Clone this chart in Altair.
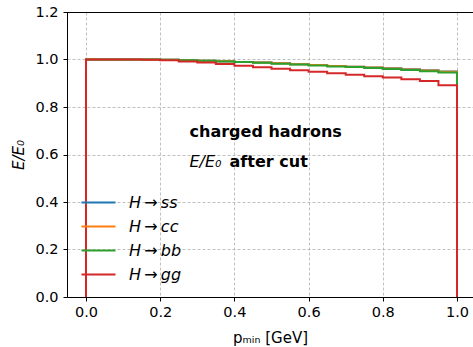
import altair as alt
import pandas as pd

# Lower edges of the p_min bins (GeV); the last bin closes at 1.0
bin_edges = [0.00, 0.05, 0.10, 0.15, 0.20, 0.25, 0.30, 0.35, 0.40, 0.45,
             0.50, 0.55, 0.60, 0.65, 0.70, 0.75, 0.80, 0.85, 0.90, 0.95]
p_end = 1.0

# Energy fraction E/E0 kept by charged hadrons after the p_min cut
frac_ss = [1.000, 1.000, 1.000, 1.000, 0.999, 0.997, 0.995, 0.993, 0.990, 0.987,
           0.984, 0.980, 0.977, 0.973, 0.970, 0.966, 0.963, 0.959, 0.955, 0.949]
frac_cc = [1.000, 1.000, 1.000, 1.000, 0.999, 0.997, 0.995, 0.993, 0.990, 0.987,
           0.984, 0.980, 0.977, 0.973, 0.970, 0.966, 0.962, 0.958, 0.954, 0.948]
frac_bb = [1.000, 1.000, 1.000, 1.000, 0.999, 0.997, 0.995, 0.992, 0.989, 0.986,
           0.982, 0.979, 0.975, 0.971, 0.968, 0.964, 0.960, 0.956, 0.951, 0.945]
frac_gg = [1.000, 1.000, 1.000, 0.999, 0.997, 0.992, 0.987, 0.981, 0.974, 0.967,
           0.961, 0.955, 0.948, 0.942, 0.936, 0.930, 0.924, 0.917, 0.909, 0.892]

series_names = ["H\u2009→\u2009ss", "H\u2009→\u2009cc", "H\u2009→\u2009bb", "H\u2009→\u2009gg"]
series_colors = ["#1f77b4", "#ff7f0e", "#2ca02c", "#d62728"]
series_values = [frac_ss, frac_cc, frac_bb, frac_gg]


def step_outline(name, values):
    # Closed histogram outline: rise at the first edge, fall at the last
    rows = [{"p": bin_edges[0], "frac": 0.0, "series": name, "k": 0}]
    for i, (edge, v) in enumerate(zip(bin_edges, values)):
        rows.append({"p": edge, "frac": v, "series": name, "k": i + 1})
    rows.append({"p": p_end, "frac": values[-1], "series": name, "k": len(values) + 1})
    rows.append({"p": p_end, "frac": 0.0, "series": name, "k": len(values) + 2})
    return rows


records = []
for name, vals in zip(series_names, series_values):
    records += step_outline(name, vals)
df = pd.DataFrame(records)

FONT = "DejaVu Sans"

x_scale = alt.Scale(domain=[-0.05121, 1.04313], nice=False, zero=False)
y_scale = alt.Scale(domain=[0, 1.2], nice=False)
color_scale = alt.Scale(domain=series_names, range=series_colors)

x_axis = alt.Axis(
    values=[0.0, 0.2, 0.4, 0.6, 0.8, 1.0], format=".1f",
    title="pₘᵢₙ [GeV]", titleFontSize=15, titleFontWeight="normal",
    titlePadding=12,
)
y_axis = alt.Axis(
    values=[0.0, 0.2, 0.4, 0.6, 0.8, 1.0, 1.2], format=".1f",
    title="E/E₀", titleFontSize=15, titleFontWeight="normal",
    titleFontStyle="italic", titlePadding=8,
)
# Long, thin line handles: a wide custom path keeps the entry rows compact
legend = alt.Legend(
    title=None, orient="none", legendX=19, legendY=178,
    symbolType="M-1.5,0H1.5", symbolSize=514, symbolStrokeWidth=2,
    symbolFillColor="transparent",
    labelFont=FONT, labelFontSize=16, labelFontStyle="italic",
    labelOffset=18, rowPadding=3, padding=0, labelColor="#000000",
)

layers = []
for name in series_names:
    layers.append(
        alt.Chart(df)
        .transform_filter(alt.datum.series == name)
        .mark_line(interpolate="step-after", strokeWidth=2, clip=True)
        .encode(
            x=alt.X("p:Q", scale=x_scale, axis=x_axis),
            y=alt.Y("frac:Q", scale=y_scale, axis=y_axis),
            color=alt.Color("series:N", scale=color_scale, legend=legend),
            order="k:Q",
        )
    )

# Top frame line at the upper limit of the y range
top_frame = alt.Chart(pd.DataFrame({"y": [1.2]})).mark_rule(
    color="black", strokeWidth=1, yOffset=0.5
).encode(y=alt.Y("y:Q", scale=y_scale, axis=y_axis))

notes = pd.DataFrame({
    "x": [0.279, 0.279, 0.387],
    "y": [0.672, 0.546, 0.546],
    "t": ["charged hadrons", "E/E₀", "after cut"],
    "w": ["bold", "normal", "bold"],
    "s": ["normal", "italic", "normal"],
})
note_layers = []
for _, r in notes.iterrows():
    note_layers.append(
        alt.Chart(pd.DataFrame([r])).mark_text(
            align="left", baseline="alphabetic", font=FONT, fontSize=16,
            fontWeight=r["w"], fontStyle=r["s"], color="black",
        ).encode(
            x=alt.X("x:Q", scale=x_scale, axis=x_axis),
            y=alt.Y("y:Q", scale=y_scale, axis=y_axis),
            text="t:N",
        )
    )

chart = (
    alt.layer(*layers, top_frame, *note_layers)
    .properties(
        width=406, height=285,
        autosize=alt.AutoSizeParams(type="none"),
        padding={"left": 67, "top": 12, "right": 0, "bottom": 50},
        background="white",
    )
    .configure_view(stroke=None)
    .configure_axis(
        labelFont=FONT, titleFont=FONT, labelFontSize=14.5, labelColor="black",
        titleColor="black", domainColor="black", domainWidth=1,
        tickColor="black", tickSize=4, tickWidth=1, labelPadding=4,
        grid=True, gridColor="#b0b0b0", gridDash=[3, 2], gridWidth=0.8,
    )
    .configure_axisY(labelPadding=5)
)

chart.save("out.html", embed_options={"renderer": "svg", "actions": False})
